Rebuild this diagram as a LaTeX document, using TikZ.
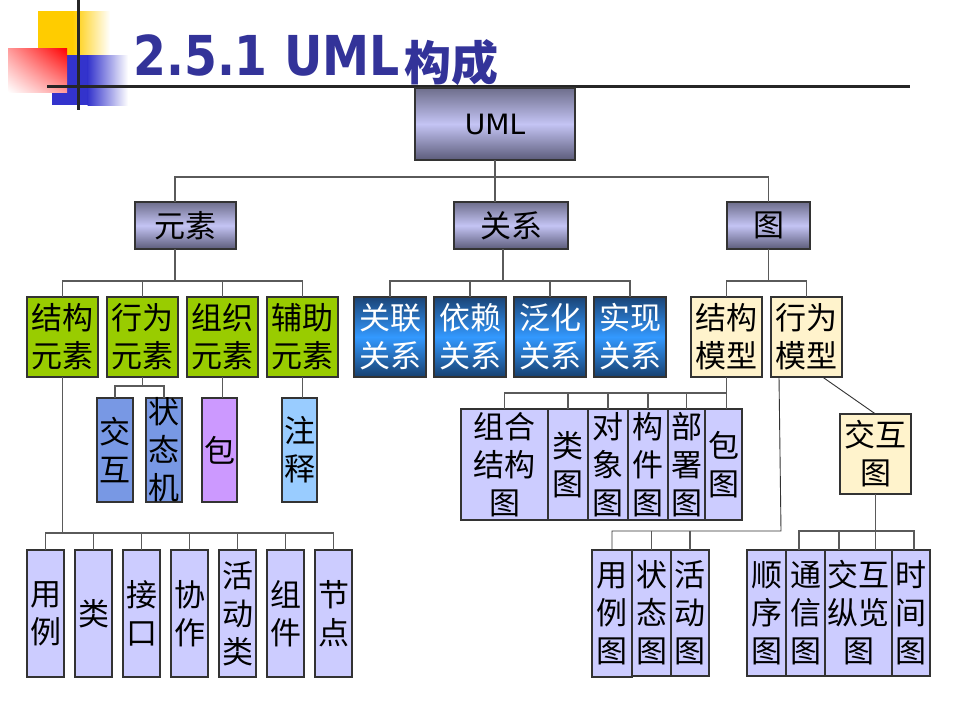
\documentclass[tikz,border=0pt]{standalone}
\usepackage{fontspec}
\setmainfont{DejaVu Sans}
\newfontfamily\cjk{Noto Sans CJK SC}
\usetikzlibrary{calc,shadings}
\definecolor{titleblue}{HTML}{333399}
\definecolor{ygreen}{HTML}{99CC00}
\definecolor{lav}{HTML}{CCCCFF}
\definecolor{cream}{HTML}{FFF3CC}
\definecolor{jhblue}{HTML}{7898E4}
\definecolor{purp}{HTML}{CC99FF}
\definecolor{skyb}{HTML}{99CCFF}
\definecolor{gtop}{HTML}{6E6E8C}
\definecolor{gmid}{HTML}{C4C4F4}
\definecolor{gbot}{HTML}{5C5C7A}
\definecolor{btop}{HTML}{1B4476}
\definecolor{bmid}{HTML}{3399FF}
\definecolor{bbot}{HTML}{17406F}
\definecolor{connc}{HTML}{5A5A5A}
\definecolor{boxline}{HTML}{333333}
\definecolor{decoy}{HTML}{FFCC00}
\definecolor{decob}{HTML}{3333CC}
\definecolor{decor}{HTML}{FF0000}
\tikzset{
  base/.style={draw=boxline, line width=1.2pt, inner sep=0pt, outer sep=0pt},
  grad/.style={base, top color=gtop, bottom color=gbot, middle color=gmid},
  relbox/.style={base, top color=btop, bottom color=bbot, middle color=bmid},
  greenbox/.style={base, fill=ygreen},
  lavbox/.style={base, fill=lav},
  creambox/.style={base, fill=cream},
  jhbox/.style={base, fill=jhblue},
  purpbox/.style={base, fill=purp},
  skybox/.style={base, fill=skyb},
  txt/.style={inner sep=0pt, align=center, font=\cjk\fontsize{31}{38}\selectfont},
  wtxt/.style={txt, text=white},
  conn/.style={draw=connc, line width=1.3pt},
  thinconn/.style={draw=black!80, line width=0.9pt},
}
% name, x1, y1, x2, y2, box style, text style, text
\newcommand\bx[8]{%
  \node[#6, minimum width={(#4-#2)*1pt}, minimum height={(#5-#3)*1pt}] (#1) at ({(#2+#4)/2},{(#3+#5)/2}) {};
  \node[#7] (#1-t) at (#1.center) {#8};
}
\begin{document}
\begin{tikzpicture}[x=1pt,y=-1pt]
\useasboundingbox (0,0) rectangle (960,720);
\fill[white] (0,0) rectangle (960,720);
% decoration
\fill[decoy] (38,11) rectangle (73,55);
\shade[left color=decoy, right color=white] (72.5,11) rectangle (110,55);
\fill[decob] (52,55) rectangle (88,105);
\shade[left color=decob, right color=white] (87.5,55) rectangle (128,105);
\shade[upper right=decor, lower left=white, upper left=decor!40!white, lower right=decor!40!white] (8,48) rectangle (67,92);
\draw[line width=3pt, black!85] (78,0) -- (78,110);
\draw[line width=3pt, black!85] (47,86) -- (910,86);
% title
\node[anchor=base west, inner sep=0pt, text=titleblue] (title) at (133,75)
  {\scalebox{0.86}[1]{\fontsize{55}{55}\selectfont\bfseries 2.5.1 UML}};
\node[anchor=base west, inner sep=0pt, text=titleblue] (title2) at (404,80)
  {\cjk\bfseries\fontsize{47}{47}\selectfont 构成};
% level 0/1
\bx{uml}{415}{88}{575}{160}{grad}{txt}{\fontspec{DejaVu Sans}\fontsize{28}{30}\selectfont UML}
\bx{ys}{135}{202}{236}{249}{grad}{txt}{元素}
\bx{gx}{454}{202}{568}{249}{grad}{txt}{关系}
\bx{tu}{727}{202}{810}{249}{grad}{txt}{图}
% elements
\bx{e1}{27}{297}{98}{377}{greenbox}{txt}{结构\\元素}
\bx{e2}{107}{297}{178}{377}{greenbox}{txt}{行为\\元素}
\bx{e3}{187}{297}{258}{377}{greenbox}{txt}{组织\\元素}
\bx{e4}{267}{297}{338}{377}{greenbox}{txt}{辅助\\元素}
\bx{jh}{97}{398}{133}{502}{jhbox}{txt}{交\\互}
\bx{zt}{146}{398}{182}{502}{jhbox}{txt}{状\\态\\机}
\bx{bao}{202}{398}{237}{502}{purpbox}{txt}{包}
\bx{zs}{282}{398}{317}{502}{skybox}{txt}{注\\释}
\bx{s1}{27}{550}{64}{677}{lavbox}{txt}{用\\例}
\bx{s2}{75}{550}{112}{677}{lavbox}{txt}{类}
\bx{s3}{123}{550}{160}{677}{lavbox}{txt}{接\\口}
\bx{s4}{171}{550}{208}{677}{lavbox}{txt}{协\\作}
\bx{s5}{219}{550}{256}{677}{lavbox}{txt}{活\\动\\类}
\bx{s6}{267}{550}{304}{677}{lavbox}{txt}{组\\件}
\bx{s7}{315}{550}{352}{677}{lavbox}{txt}{节\\点}
% relations
\bx{r1}{354}{297}{426}{377}{relbox}{wtxt}{关联\\关系}
\bx{r2}{434}{297}{506}{377}{relbox}{wtxt}{依赖\\关系}
\bx{r3}{514}{297}{586}{377}{relbox}{wtxt}{泛化\\关系}
\bx{r4}{594}{297}{666}{377}{relbox}{wtxt}{实现\\关系}
% diagrams
\bx{m1}{691}{297}{762}{377}{creambox}{txt}{结构\\模型}
\bx{m2}{771}{297}{842}{377}{creambox}{txt}{行为\\模型}
\bx{c1}{461}{409}{548}{520}{lavbox}{txt}{组合\\结构\\图}
\bx{c2}{548}{409}{588}{520}{lavbox}{txt}{类\\图}
\bx{c3}{588}{409}{628}{520}{lavbox}{txt}{对\\象\\图}
\bx{c4}{628}{409}{668}{520}{lavbox}{txt}{构\\件\\图}
\bx{c5}{668}{409}{705}{520}{lavbox}{txt}{部\\署\\图}
\bx{c6}{705}{409}{742}{520}{lavbox}{txt}{包\\图}
\bx{jht}{840}{414}{911}{494}{creambox}{txt}{交互\\图}
\bx{b1}{592}{550}{632}{677}{lavbox}{txt}{用\\例\\图}
\bx{b2}{632}{550}{671}{676}{lavbox}{txt}{状\\态\\图}
\bx{b3}{671}{550}{709}{676}{lavbox}{txt}{活\\动\\图}
\bx{d1}{747}{550}{786}{676}{lavbox}{txt}{顺\\序\\图}
\bx{d2}{786}{550}{825}{676}{lavbox}{txt}{通\\信\\图}
\bx{d3}{825}{550}{892}{676}{lavbox}{txt}{交互\\纵览\\图}
\bx{d4}{892}{550}{930}{676}{lavbox}{txt}{时\\间\\图}
% connectors
\coordinate (k1) at (175,177);
\coordinate (k3) at (175,281);
\coordinate (k6) at (503,281);
\coordinate (k4) at (0,386);
\coordinate (k5) at (0,533);
\coordinate (k7) at (0,393);
\coordinate (k8) at (781,531);
\coordinate (k8a) at (779,0);
\coordinate (t1) at (799,531);
\coordinate (t2) at (839,531);
\coordinate (t3) at (914,531);
\draw[conn] (uml.south) -- (gx.north -| uml.south);
\draw[conn] (ys.north -| k1) -- (k1) -- (k1 -| tu.north) -- (tu.north);
\draw[conn] (ys.south -| k3) -- (k3);
\draw[conn] (e1.north) -- (e1.north |- k3) -- (e4.north |- k3) -- (e4.north);
\draw[conn] (e2.north) -- (e2.north |- k3);
\draw[conn] (e3.north) -- (e3.north |- k3);
\draw[conn] (e2.south) -- (e2.south |- k4);
\draw[conn] (jh.north) -- (jh.north |- k4) -- (zt.north |- k4) -- (zt.north);
\draw[conn] (e3.south) -- (e3.south |- bao.north);
\draw[conn] (e4.south) -- (e4.south |- zs.north);
\draw[conn] (e1.south) -- (e1.south |- k5);
\draw[conn] (s1.north) -- (s1.north |- k5) -- (s7.north |- k5) -- (s7.north);
\foreach \n in {s2,s3,s4,s5,s6} \draw[conn] (\n.north) -- (\n.north |- k5);
\draw[conn] (gx.south -| k6) -- (k6);
\draw[conn] (r1.north) -- (r1.north |- k6) -- (r4.north |- k6) -- (r4.north);
\draw[conn] (r2.north) -- (r2.north |- k6);
\draw[conn] (r3.north) -- (r3.north |- k6);
\draw[conn] (tu.south) -- (tu.south |- k6);
\draw[conn] (m1.north) -- (m1.north |- k6) -- (m2.north |- k6) -- (m2.north);
\draw[conn] (m1.south) -- (m1.south |- c6.north);
\draw[conn] (m1.south |- k7) -- (c1.north |- k7) -- (c1.north);
\foreach \n in {c2,c3,c4,c5} \draw[conn] (\n.north) -- (\n.north |- k7);
\draw[thinconn] (m2.south -| k8a) -- (k8) -- (b1.north |- k8) -- (b1.north);
\draw[conn] (b2.north) -- (b2.north |- k8);
\draw[conn] (b3.north) -- (b3.north |- k8);
\draw[thinconn] ($(m2.south)+(16,0)$) -- (jht.north);
\draw[conn] (jht.south) -- (jht.south |- d3.north);
\draw[conn] (t1 |- d2.north) -- (t1) -- (t3) -- (t3 |- d4.north);
\draw[conn] (t2) -- (t2 |- d3.north);
\end{tikzpicture}
\end{document}
